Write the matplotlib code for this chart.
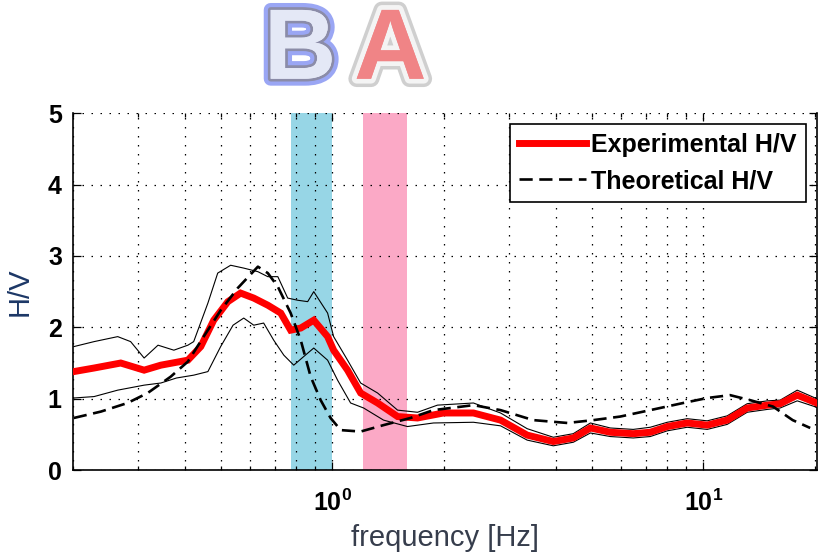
import matplotlib
matplotlib.use("Agg")
import matplotlib.pyplot as plt
import matplotlib.patheffects as pe
from matplotlib.ticker import LogLocator, NullFormatter, FixedLocator

plt.rcParams['font.family'] = ['Liberation Sans', 'DejaVu Sans']

# Experimental H/V (mean curve)
exp_f = [0.201, 0.228, 0.269, 0.311, 0.345, 0.408, 0.442, 0.479, 0.523, 0.566,
         0.614, 0.670, 0.726, 0.772, 0.822, 0.891, 0.971, 1.008, 1.099, 1.192,
         1.324, 1.499, 1.696, 1.993, 2.40, 2.84, 3.35, 3.94, 4.46, 4.96, 5.61,
         6.47, 7.19, 7.99, 9.04, 10.24, 11.59, 13.12, 14.86, 16.1, 17.9, 20.2]
exp_v = [1.38, 1.43, 1.50, 1.40, 1.47, 1.54, 1.73, 2.10, 2.36, 2.48,
         2.41, 2.31, 2.20, 1.96, 1.99, 2.10, 1.87, 1.68, 1.40, 1.08,
         0.94, 0.75, 0.73, 0.80, 0.80, 0.70, 0.49, 0.40, 0.45, 0.59, 0.53,
         0.51, 0.53, 0.61, 0.66, 0.63, 0.70, 0.87, 0.91, 0.93, 1.05, 0.94]

# Upper bound of the experimental curve
up_f = [0.201, 0.228, 0.264, 0.286, 0.311, 0.339, 0.374, 0.408, 0.423, 0.462,
        0.491, 0.532, 0.577, 0.630, 0.670, 0.713, 0.758, 0.806, 0.858, 0.891,
        0.971, 1.008, 1.099, 1.192, 1.324, 1.499, 1.696, 1.92, 2.40, 2.84,
        3.35, 3.94, 4.46, 4.96, 5.61, 6.47, 7.19, 7.99, 9.04, 10.24, 11.59,
        13.12, 14.86, 16.1, 17.9, 20.2]
up_v = [1.73, 1.80, 1.87, 1.80, 1.57, 1.75, 1.68, 1.75, 1.80, 2.34,
        2.76, 2.87, 2.83, 2.78, 2.71, 2.71, 2.41, 2.38, 2.36, 2.50,
        2.20, 1.87, 1.54, 1.22, 1.08, 0.84, 0.81, 0.91, 0.94, 0.80,
        0.58, 0.46, 0.51, 0.66, 0.59, 0.57, 0.60, 0.67, 0.72, 0.69, 0.76,
        0.93, 0.97, 0.98, 1.12, 1.00]

# Lower bound of the experimental curve
lo_f = [0.201, 0.228, 0.264, 0.311, 0.345, 0.380, 0.423, 0.462, 0.500, 0.540,
        0.577, 0.614, 0.653, 0.695, 0.740, 0.787, 0.837, 0.891, 0.971, 1.033,
        1.12, 1.214, 1.374, 1.594, 1.873, 2.40, 2.84, 3.35, 3.94, 4.46, 4.96,
        5.61, 6.47, 7.19, 7.99, 9.04, 10.24, 11.59, 13.12, 14.86, 16.1, 17.9, 20.2]
lo_v = [1.01, 1.03, 1.12, 1.19, 1.22, 1.29, 1.33, 1.38, 1.73, 2.03,
        2.13, 2.03, 2.06, 1.82, 1.61, 1.47, 1.59, 1.71, 1.54, 1.26,
        0.94, 0.87, 0.70, 0.61, 0.66, 0.67, 0.62, 0.42, 0.34, 0.39, 0.52,
        0.47, 0.45, 0.47, 0.55, 0.60, 0.57, 0.64, 0.81, 0.85, 0.87, 0.97, 0.88]

# Theoretical H/V
th_f = [0.201, 0.238, 0.2805, 0.318, 0.367, 0.408, 0.450, 0.5004, 0.556, 0.630,
        0.670, 0.713, 0.772, 0.822, 0.874, 0.930, 0.989, 1.053, 1.192, 1.374,
        1.624, 1.873, 2.40, 2.84, 3.48, 4.30, 5.05, 5.97, 7.19, 8.82, 10.24,
        11.8, 13.36, 15.4, 17.4, 19.4]
th_v = [0.73, 0.82, 0.94, 1.08, 1.31, 1.52, 1.87, 2.24, 2.55, 2.85,
        2.76, 2.57, 2.20, 1.82, 1.31, 0.98, 0.73, 0.56, 0.54, 0.63,
        0.73, 0.84, 0.91, 0.84, 0.70, 0.66, 0.70, 0.75, 0.84, 0.94, 1.01,
        1.05, 0.98, 0.89, 0.70, 0.59]

# Highlighted frequency bands
band_b = (0.772, 1.0)
band_a = (1.21, 1.59)

fig = plt.figure(figsize=(8.2, 5.55), dpi=100)
ax = fig.add_axes([0.089, 0.153, 0.907, 0.643])

ax.axvspan(*band_b, color='#97d6e6', lw=0, zorder=0.5)
ax.axvspan(*band_a, color='#fba9c6', lw=0, zorder=0.5)

ax.plot(up_f, up_v, color='black', lw=0.8, zorder=3)
ax.plot(lo_f, lo_v, color='black', lw=0.8, zorder=3)
ax.plot(exp_f, exp_v, color='#ff0000', lw=5, solid_joinstyle='miter', zorder=4,
        label='Experimental H/V')
ax.plot(th_f, th_v, color='black', lw=1.9, dashes=(5, 2.5), zorder=5,
        label='Theoretical H/V')

ax.set_xscale('log')
ax.set_xlim(0.2, 20.2)
ax.set_ylim(0, 5)
ax.yaxis.set_major_locator(FixedLocator([0, 1, 2, 3, 4, 5]))
ax.xaxis.set_major_locator(LogLocator(base=10, numticks=10))
ax.xaxis.set_minor_locator(LogLocator(base=10, subs=range(2, 10), numticks=20))
ax.xaxis.set_minor_formatter(NullFormatter())

ax.grid(True, which='both', axis='x', color='black', lw=0.9, linestyle=(0, (1.2, 6)))
ax.grid(True, which='major', axis='y', color='black', lw=0.9, linestyle=(0, (1.2, 6)))

ax.tick_params(which='both', direction='in', top=True, right=True, width=0.9)
ax.tick_params(which='major', length=6, labelsize=18)
ax.tick_params(axis='y', which='major', pad=8)
ax.tick_params(axis='x', which='major', pad=14)
ax.tick_params(which='minor', length=3)
for lab in ax.get_yticklabels() + ax.get_xticklabels():
    lab.set_fontweight('bold')
ax.spines['top'].set_visible(False)
for s in ('left', 'right', 'bottom'):
    ax.spines[s].set_linewidth(1.2)

ax.set_xlabel('frequency [Hz]', fontsize=21, color='#363d4c', labelpad=6)
ax.set_ylabel('H/V', fontsize=21, color='#1c3766', labelpad=10)

leg = ax.legend(loc='upper right', bbox_to_anchor=(0.985, 0.97),
                prop={'size': 18, 'weight': 'bold'},
                frameon=True, fancybox=False, edgecolor='black', framealpha=1,
                handlelength=2.7, handletextpad=0.2, borderpad=0.35,
                labelspacing=0.5, borderaxespad=0.0)
leg.get_frame().set_linewidth(1.2)

fig.text(0.366, 0.905, 'B', ha='center', va='center', fontsize=72,
         fontweight='bold', color='#e4e8f6',
         path_effects=[pe.withStroke(linewidth=10, foreground='#9aa6f4'),
                       pe.withStroke(linewidth=4, foreground='#8b8ca8'),
                       pe.Normal()])
fig.text(0.476, 0.905, 'A', ha='center', va='center', fontsize=72,
         fontweight='bold', color='#f08486',
         path_effects=[pe.withStroke(linewidth=12, foreground='#cfcfcf'),
                       pe.withStroke(linewidth=7, foreground='#f4f4f4'),
                       pe.Normal()])

fig.savefig('out.png', dpi=100)
